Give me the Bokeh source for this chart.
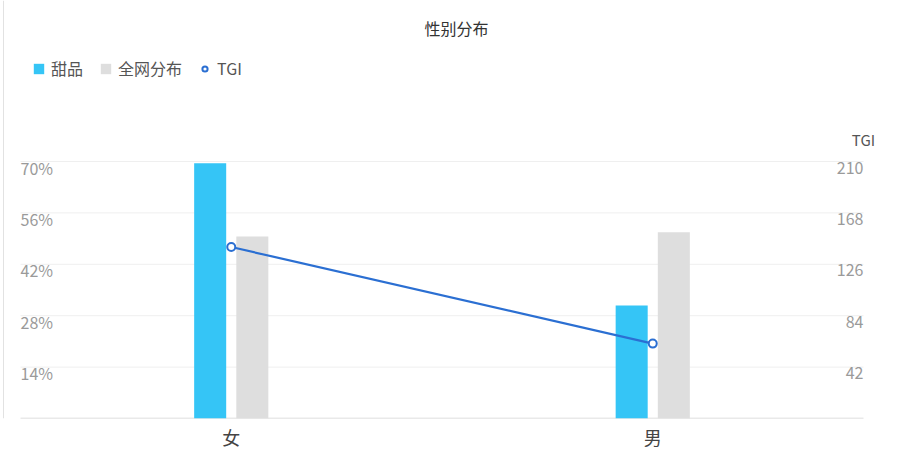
from bokeh.plotting import figure
from bokeh.models import ColumnDataSource, Range1d, FactorRange, Legend, LegendItem, Label, Span
from bokeh.transform import dodge
from bokeh.core.properties import value
from bokeh.embed import file_html
from bokeh.resources import INLINE

categories = ["女", "男"]
dessert = [69.5, 30.8]
overall = [49.6, 50.7]
tgi = [140.1, 61.2]
left_ticks = [14, 28, 42, 56, 70]
left_tick_labels = ["14%", "28%", "42%", "56%", "70%"]
right_ticks = [42, 84, 126, 168, 210]
right_tick_labels = ["42", "84", "126", "168", "210"]

FONT = "Noto Sans CJK SC"

src = ColumnDataSource(dict(cat=categories, dessert=dessert, overall=overall, tgi=tgi))

# frame spans the whole upper part of the figure; y ranges extended above the top tick
PLOT_TOP = 161.0
PLOT_BOTTOM = 418.0
ymax = 70 * PLOT_BOTTOM / (PLOT_BOTTOM - PLOT_TOP)
tmax = 210 * PLOT_BOTTOM / (PLOT_BOTTOM - PLOT_TOP)

p = figure(x_range=FactorRange(factors=categories, range_padding=0.04745,
                               range_padding_units="absolute"),
           y_range=Range1d(0, ymax),
           width=900, height=460,
           min_border_left=0, min_border_right=17, min_border_top=0, min_border_bottom=42,
           output_backend="svg", toolbar_location=None, tools="")
p.extra_y_ranges = {"tgi": Range1d(0, tmax)}
p.outline_line_color = None
p.background_fill_color = "white"
p.border_fill_color = "white"

# light page border on the left
p.add_layout(Span(location=3, location_units="screen", dimension="height",
                  line_color="#e2e2e2", line_width=1))

# grid lines and base line from tick values, spanning the category area only
gsrc = ColumnDataSource(dict(x0=[0] * len(left_ticks), x1=[2] * len(left_ticks), y=left_ticks))
p.segment(x0="x0", y0="y", x1="x1", y1="y", source=gsrc, line_color="#efefef", line_width=1)
p.segment(x0=[0], y0=[0], x1=[2], y1=[0], line_color="#d4d4d4", line_width=1.5)

b1 = p.vbar(x=dodge("cat", -0.05, range=p.x_range), top="dessert", width=0.076, source=src,
            fill_color="#35c5f6", line_color=None)
b2 = p.vbar(x=dodge("cat", 0.05, range=p.x_range), top="overall", width=0.076, source=src,
            fill_color="#dedede", line_color=None)
p.line(x="cat", y="tgi", source=src, y_range_name="tgi", line_color="#2b6fd2", line_width=2.2)
sc = p.scatter(x="cat", y="tgi", source=src, y_range_name="tgi", size=8, marker="circle",
               fill_color="white", line_color="#2b6fd2", line_width=2)

p.yaxis.visible = False
p.ygrid.grid_line_color = None
p.xgrid.grid_line_color = None

p.xaxis.axis_line_color = None
p.xaxis.major_tick_line_color = None
p.xaxis.minor_tick_line_color = None
p.xaxis.major_tick_out = 0
p.xaxis.major_tick_in = 0
p.xaxis.major_label_text_font = FONT
p.xaxis.major_label_text_font_size = "18px"
p.xaxis.major_label_text_color = "#444444"
p.xaxis.major_label_standoff = 5

lsrc = ColumnDataSource(dict(x=[0] * len(left_ticks), y=left_ticks, t=left_tick_labels))
p.text(x="x", y="y", text="t", source=lsrc, text_align="left", text_baseline="middle",
       y_offset=6, text_font=value(FONT), text_font_size="16px", text_color="#9a9a9a")
rsrc = ColumnDataSource(dict(x=[2] * len(right_ticks), y=right_ticks, t=right_tick_labels))
p.text(x="x", y="y", text="t", source=rsrc, y_range_name="tgi", text_align="right",
       text_baseline="middle", y_offset=6, text_font=value(FONT), text_font_size="16px",
       text_color="#9a9a9a")

p.add_layout(Label(x=456, y=PLOT_BOTTOM - 27, x_units="screen", y_units="screen", text="性别分布",
                   text_align="center", text_baseline="middle", text_font=FONT,
                   text_font_size="16px", text_color="#333333"))
p.add_layout(Label(x=863, y=PLOT_BOTTOM - 139, x_units="screen", y_units="screen", text="TGI",
                   text_align="center", text_baseline="middle", text_font=FONT,
                   text_font_size="15px", text_color="#555555"))

legend = Legend(items=[LegendItem(label="甜品", renderers=[b1]),
                       LegendItem(label="全网分布", renderers=[b2]),
                       LegendItem(label="TGI", renderers=[sc])],
                location=(32, PLOT_BOTTOM - 80), orientation="horizontal",
                glyph_width=13, glyph_height=13, label_standoff=6, spacing=16,
                padding=0, margin=0, border_line_color=None, background_fill_alpha=0,
                label_text_font=FONT, label_text_font_size="16px", label_text_color="#555555",
                label_height=13)
p.add_layout(legend, "center")

open("out.html", "w").write(file_html(p, INLINE))
